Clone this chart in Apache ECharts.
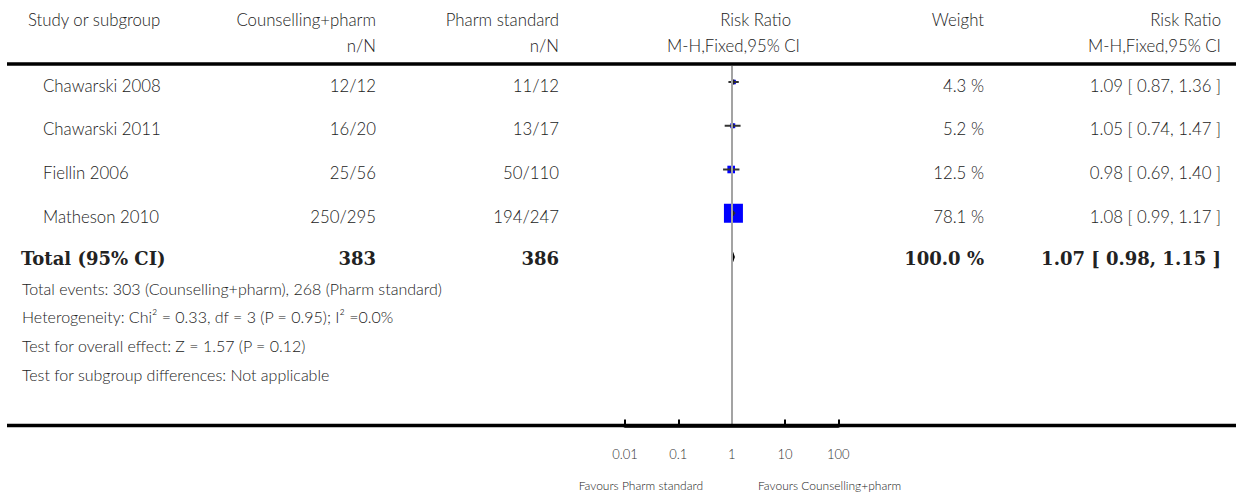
<!DOCTYPE html>
<html>
<head>
<meta charset="utf-8">
<script src="https://cdn.jsdelivr.net/npm/echarts@6/dist/echarts.min.js"></script>
<style>
  html, body { margin: 0; padding: 0; background: #fff; }
  #chart { width: 1236px; height: 493px; }
</style>
</head>
<body>
<div id="chart"></div>
<script>
// Study-level data (risk ratios, Mantel-Haenszel fixed effect)
const studies = ['Chawarski 2008', 'Chawarski 2011', 'Fiellin 2006', 'Matheson 2010'];
const eventsTreat = ['12/12', '16/20', '25/56', '250/295'];
const eventsCtrl = ['11/12', '13/17', '50/110', '194/247'];
const weights = [4.3, 5.2, 12.5, 78.1];
const rr = [1.09, 1.05, 0.98, 1.08];
const ciLow = [0.87, 0.74, 0.69, 0.99];
const ciHigh = [1.36, 1.47, 1.40, 1.17];

// Pooled result
const totalLabel = 'Total (95% CI)';
const totalN = [383, 386];
const totalWeight = 100.0;
const totalRR = [1.07, 0.98, 1.15]; // estimate, lower, upper

// Column headings
const headTop = ['Study or subgroup', 'Counselling+pharm', 'Pharm standard', 'Risk Ratio', 'Weight', 'Risk Ratio'];
const headSub = ['n/N', 'n/N', 'M-H,Fixed,95% CI', 'M-H,Fixed,95% CI'];

// Summary statistics below the table
const footerLines = [
  'Total events: 303 (Counselling+pharm), 268 (Pharm standard)',
  'Heterogeneity: Chi\u00B2 = 0.33, df = 3 (P = 0.95); I\u00B2 =0.0%',
  'Test for overall effect: Z = 1.57 (P = 0.12)',
  'Test for subgroup differences: Not applicable'
];

// Axis
const xTicks = [0.01, 0.1, 1, 10, 100];
const favours = ['Favours Pharm standard', 'Favours Counselling+pharm'];

// ---- layout (pixels) ----
const W = 1236, H = 493;
const plotLeft = 625, plotRight = 838.3;
const plotTop = 66, axisY = 425.5;
const firstRowY = 82, rowStep = 43.75;
const colStudyHead = 28, colStudy = 43, colTotal = 21;
const colTreat = 376, colCtrl = 559, colRRHead = 791, colRRSub = 800;
const colWeight = 984, colCI = 1221;
const maxSquare = 19;

const LIGHT = '300 16.8px Lato';
const FOOT = '300 16px Lato';
const BOLD = 'bold 18px "DejaVu Serif"';
const TXT = '#222';

const yMin = -(firstRowY - plotTop) / rowStep;
const yMax = yMin + (axisY - plotTop) / rowStep;

function txt(text, x, y, align, font) {
  return {
    type: 'text',
    style: {
      text: text, x: x, y: y,
      align: align, textAlign: align,
      verticalAlign: 'middle', textVerticalAlign: 'middle',
      font: font, fill: TXT
    }
  };
}
const fmt2 = v => v.toFixed(2);
const ciText = (e, l, h) => fmt2(e) + ' [ ' + fmt2(l) + ', ' + fmt2(h) + ' ]';

const studyData = studies.map((s, i) => [i, rr[i], ciLow[i], ciHigh[i], weights[i]]);
const maxW = Math.max.apply(null, weights);

const chart = echarts.init(document.getElementById('chart'), null, { renderer: 'svg' });

const graphics = [];
// header rule and bottom rule
graphics.push({ type: 'line', shape: { x1: 7, y1: 64, x2: W, y2: 64 }, style: { stroke: '#000', lineWidth: 3.5 }, z: 10 });
graphics.push({ type: 'line', shape: { x1: 7, y1: axisY, x2: W, y2: axisY }, style: { stroke: '#000', lineWidth: 3.5 }, z: 10 });
// headings
graphics.push(txt(headTop[0], colStudyHead, 19, 'left', LIGHT));
graphics.push(txt(headTop[1], colTreat, 19, 'right', LIGHT));
graphics.push(txt(headTop[2], colCtrl, 19, 'right', LIGHT));
graphics.push(txt(headTop[3], colRRHead, 19, 'right', LIGHT));
graphics.push(txt(headTop[4], colWeight, 19, 'right', LIGHT));
graphics.push(txt(headTop[5], colCI, 19, 'right', LIGHT));
graphics.push(txt(headSub[0], colTreat, 45, 'right', LIGHT));
graphics.push(txt(headSub[1], colCtrl, 45, 'right', LIGHT));
graphics.push(txt(headSub[2], colRRSub, 45, 'right', LIGHT));
graphics.push(txt(headSub[3], colCI, 45, 'right', LIGHT));
// summary lines
footerLines.forEach((line, k) => graphics.push(txt(line, 22, 288 + k * 28.7, 'left', FOOT)));
// favours labels
graphics.push(txt(favours[0], 703, 485, 'right', '300 12px Lato'));
graphics.push(txt(favours[1], 758, 485, 'left', '300 12px Lato'));

chart.setOption({
  animation: false,
  backgroundColor: '#fff',
  grid: { left: plotLeft, right: W - plotRight, top: plotTop, bottom: H - axisY, containLabel: false },
  xAxis: {
    type: 'log', logBase: 10, min: xTicks[0], max: xTicks[xTicks.length - 1],
    position: 'bottom',
    axisLine: { show: true, onZero: false, lineStyle: { color: '#000', width: 3.5 } },
    axisTick: { show: true, inside: true, length: 6, lineStyle: { color: '#000', width: 2 } },
    axisLabel: {
      margin: 22, color: '#333', fontFamily: 'Lato', fontWeight: 300, fontSize: 13,
      formatter: v => String(Number(v.toPrecision(3)))
    },
    splitLine: { show: false },
    minorTick: { show: false }
  },
  yAxis: { type: 'value', inverse: true, min: yMin, max: yMax, show: false },
  graphic: graphics,
  series: [
    {
      // reference line at RR = 1
      type: 'line', data: [], silent: true,
      markLine: {
        symbol: 'none', silent: true, label: { show: false },
        lineStyle: { color: '#a3a3a3', width: 2, type: 'solid' },
        data: [{ xAxis: 1 }]
      }
    },
    {
      // study rows: table text, confidence interval and weighted square
      type: 'custom', data: studyData,
      encode: { x: [1, 2, 3], y: 0 },
      renderItem: (params, api) => {
        const i = api.value(0);
        const c = api.coord([api.value(1), i]);
        const lo = api.coord([api.value(2), i]);
        const hi = api.coord([api.value(3), i]);
        const side = maxSquare * Math.sqrt(api.value(4) / maxW);
        const ty = c[1] + 3;
        return {
          type: 'group',
          children: [
            { type: 'rect', shape: { x: c[0] - side / 2, y: c[1] - side / 2, width: side, height: side }, style: { fill: '#0000ff' } },
            { type: 'line', shape: { x1: lo[0], y1: c[1], x2: hi[0], y2: c[1] }, style: { stroke: '#333', lineWidth: 2 } },
            { type: 'line', shape: { x1: c[0], y1: c[1] - 2.5, x2: c[0], y2: c[1] + 2.5 }, style: { stroke: '#222', lineWidth: 1.5 } },
            txt(studies[i], colStudy, ty, 'left', LIGHT),
            txt(eventsTreat[i], colTreat, ty, 'right', LIGHT),
            txt(eventsCtrl[i], colCtrl, ty, 'right', LIGHT),
            txt(weights[i].toFixed(1) + ' %', colWeight, ty, 'right', LIGHT),
            txt(ciText(rr[i], ciLow[i], ciHigh[i]), colCI, ty, 'right', LIGHT)
          ]
        };
      }
    },
    {
      // pooled estimate: diamond and bold totals
      type: 'custom', data: [[studies.length, totalRR[0], totalRR[1], totalRR[2]]],
      encode: { x: [1, 2, 3], y: 0 },
      renderItem: (params, api) => {
        const r = api.value(0);
        const c = api.coord([api.value(1), r]);
        const lo = api.coord([api.value(2), r]);
        const hi = api.coord([api.value(3), r]);
        const h = 5;
        const ty = c[1] + 1.5;
        return {
          type: 'group',
          children: [
            { type: 'polygon', shape: { points: [[lo[0], c[1]], [c[0], c[1] - h], [hi[0], c[1]], [c[0], c[1] + h]] }, style: { fill: '#000' } },
            txt(totalLabel, colTotal, ty, 'left', BOLD),
            txt(String(totalN[0]), colTreat, ty, 'right', BOLD),
            txt(String(totalN[1]), colCtrl, ty, 'right', BOLD),
            txt(totalWeight.toFixed(1) + ' %', colWeight, ty, 'right', BOLD),
            txt(ciText(totalRR[0], totalRR[1], totalRR[2]), colCI, ty, 'right', BOLD)
          ]
        };
      }
    }
  ]
});
</script>
</body>
</html>
